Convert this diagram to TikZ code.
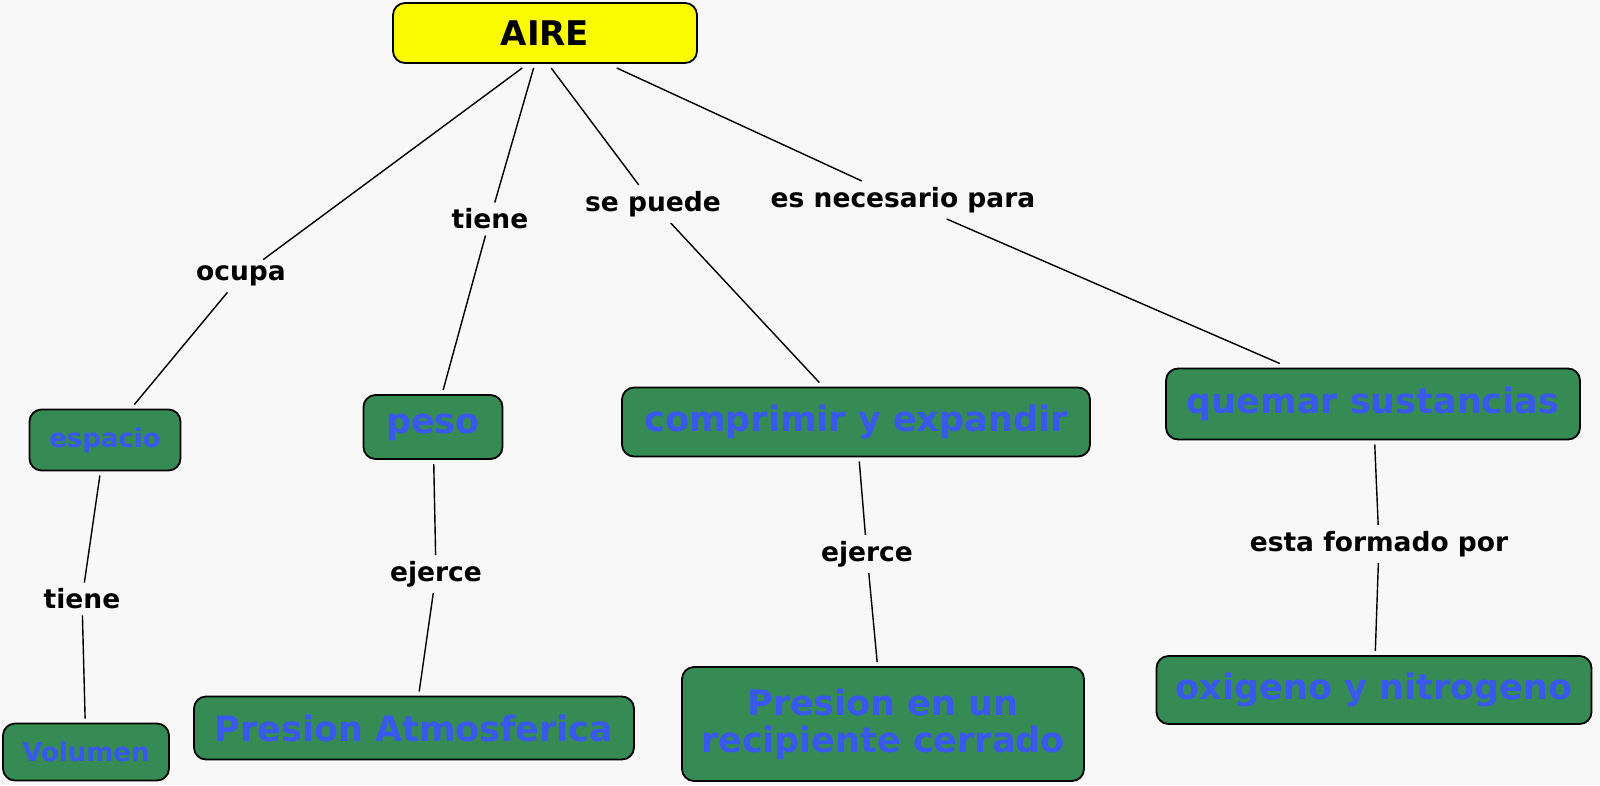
\documentclass[tikz,border=0pt]{standalone}
\usepackage{fontspec}
\setmainfont{DejaVu Sans}
\usetikzlibrary{positioning}
\definecolor{conceptgreen}{RGB}{54,139,85}
\definecolor{conceptblue}{RGB}{56,88,238}
\definecolor{rootyellow}{RGB}{250,250,0}
\definecolor{paper}{RGB}{248,248,248}
\tikzset{c/.style={draw,line width=1.8pt,rounded corners=12pt,fill=conceptgreen,text=conceptblue,align=center,inner sep=0pt,outer sep=5pt,font=\fontsize{35}{37}\selectfont\bfseries},sc/.style={c,font=\fontsize{26}{30}\selectfont\bfseries},root/.style={c,fill=rootyellow,text=black,font=\fontsize{34}{38}\selectfont\bfseries},lbl/.style={font=\fontsize{26.5}{30}\selectfont\bfseries,inner sep=6pt},ln/.style={line width=1.4pt}}

\begin{document}
\begin{tikzpicture}[x=1pt,y=-1pt]
\fill[paper](0,0)rectangle(1600,785);\useasboundingbox(0,0)rectangle(1600,785);
\node[root,minimum width=304,minimum height=60](aire)at(545,33){AIRE};
\node[sc,minimum width=151,minimum height=61](espacio)at(105,440){espacio};
\node[sc,minimum width=166,minimum height=57](volumen)at(86,752){Volumen};
\node[c,minimum width=139,minimum height=64](peso)at(433,427){peso};
\node[c,minimum width=468,minimum height=69](comprimir)at(856,422){comprimir y expandir};
\node[c,minimum width=414,minimum height=71](quemar)at(1373,404){quemar sustancias};
\node[c,minimum width=440,minimum height=63](atmosfera)at(414,728){Presion Atmosferica};
\node[c,minimum width=402,minimum height=114](recipiente)at(883,724){Presion en un\\recipiente cerrado};
\node[c,minimum width=435,minimum height=68](gases)at(1374,690){oxigeno y nitrogeno};
% linking phrases
\node[lbl](ocupa)at(241,276){ocupa};
\node[lbl](tienepeso)at(490,219){tiene};
\node[lbl](sepuede)at(653,204){se puede};
\node[lbl](necesario)at(903,200){es necesario para};
\node[lbl](tienevol)at(82,599){tiene};
\node[lbl](ejercepeso)at(436,574){ejerce};
\node[lbl](ejercecomp)at(867,554){ejerce};
\node[lbl](formado)at(1379,544){esta formado por};
\foreach\a/\b in{aire.-123/ocupa,ocupa/espacio,espacio/tienevol,tienevol/volumen,aire.-108/tienepeso,tienepeso/peso,peso/ejercepeso,ejercepeso/atmosfera,aire.-80/sepuede,sepuede/comprimir,comprimir/ejercecomp,ejercecomp/recipiente,aire.-26/necesario,necesario/quemar,quemar/formado,formado/gases}\draw[ln](\a)--(\b);
\end{tikzpicture}
\end{document}
